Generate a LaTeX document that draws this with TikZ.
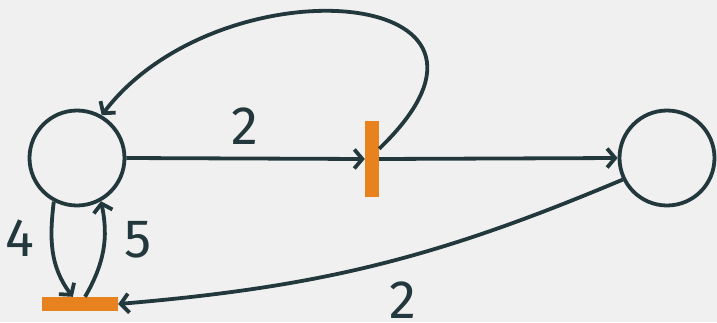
\documentclass[tikz,border=0pt]{standalone}
\usepackage{fontspec}
\setmainfont{Fira Sans}
\usetikzlibrary{arrows.meta,positioning}
\definecolor{netInk}{RGB}{34,56,61}
\definecolor{netFire}{RGB}{232,130,30}
\definecolor{netBack}{RGB}{240,240,240}
\tikzset{
    place/.style={circle,draw=netInk,line width=3.8pt,minimum size=95pt,inner sep=0pt},
    trans/.style={rectangle,fill=netFire,inner sep=0pt},
    arc/.style={-{Straight Barb[length=8pt,width=19pt,line width=3.8pt]},draw=netInk,line width=3.8pt},
    wt/.style={text=netInk,font=\fontsize{54}{60}\selectfont,inner sep=0pt}
}
\begin{document}
\begin{tikzpicture}[x=1pt,y=-1pt]
    \fill[netBack] (0,0) rectangle (717,322);
    \useasboundingbox (0,0) rectangle (717,322);

    \node[place] (pin)  at ( 77,158) {};
    \node[place] (pout) at (667,158) {};
    \node[trans,minimum width=14pt,minimum height=76pt] (tmid) at (372,159) {};
    \node[trans,minimum width=76pt,minimum height=14pt] (tlow) at ( 80,304) {};

    \node[wt] (w1) at (245,126) {2};
    \node[wt] (w4) at ( 20,238) {4};
    \node[wt] (w5) at (138,240) {5};
    \node[wt] (w2) at (403,300) {2};

    \draw[arc] (pin.east) -- (tmid.west);
    \draw[arc] (tmid.east) -- (pout.west);
    \draw[arc] (tmid.55) .. controls (550,-15) and (220,-40) .. (pin.60);
    \draw[arc] (pin.242) to[out=-97,in=127] (tlow.135);
    \draw[arc] (tlow.55) to[out=60,in=-78] (pin.-61);
    \draw[arc] (pout.206) to[bend left=9] (tlow.east);
\end{tikzpicture}
\end{document}
